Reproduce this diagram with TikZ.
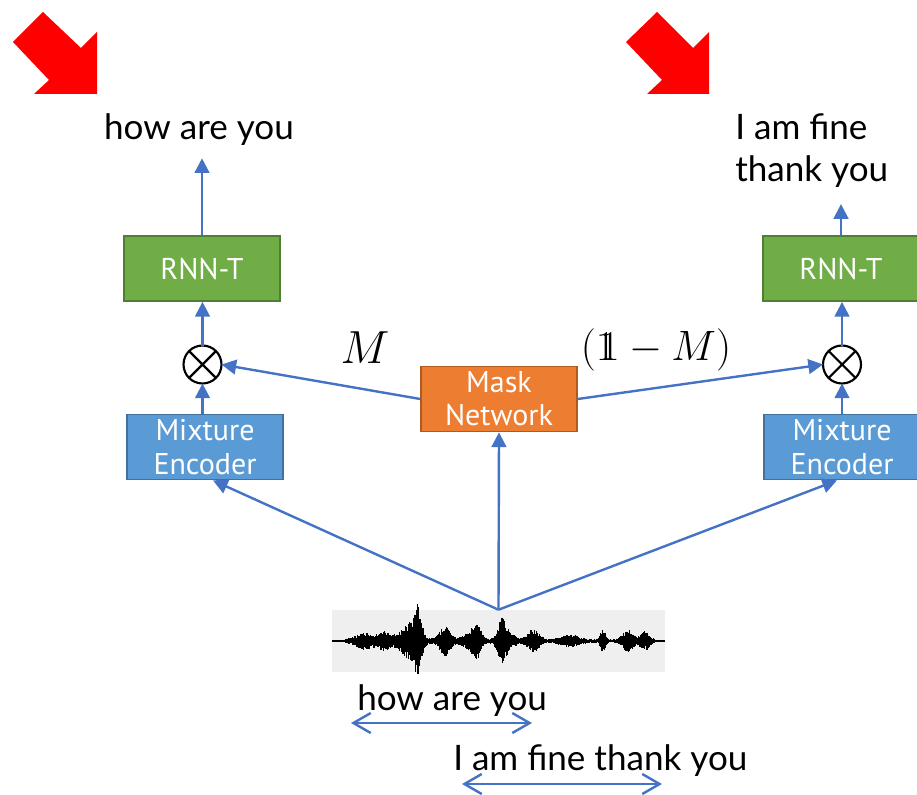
\documentclass[tikz,border=0pt]{standalone}
\usepackage{graphicx}
\usepackage[no-math]{fontspec}
\setmainfont{Lato}
\newfontfamily\boxfont{PT Sans}
\usetikzlibrary{arrows.meta,calc}
\newcommand{\dsone}{\mathord{\rlap{$1$}\kern0.1em 1}}
\definecolor{lblue}{HTML}{4472C4}
\definecolor{gfill}{HTML}{70AD47}
\definecolor{gdraw}{HTML}{507E32}
\definecolor{bfill}{HTML}{5B9BD5}
\definecolor{bdraw}{HTML}{41719C}
\definecolor{ofill}{HTML}{ED7D31}
\definecolor{odraw}{HTML}{AE5A21}
\definecolor{wavebg}{HTML}{EFEFEF}
\begin{document}
\begin{tikzpicture}[x=0.75pt,y=-0.75pt,
  box/.style={draw, line width=1.1pt, minimum width=117pt, minimum height=49pt, inner sep=0pt, text=white, font=\boxfont\fontsize{22.5}{25}\selectfont, align=center},
  gbox/.style={box, fill=gfill, draw=gdraw},
  bbox/.style={box, fill=bfill, draw=bdraw},
  obox/.style={box, fill=ofill, draw=odraw},
  conn/.style={draw=lblue, line width=1.8pt, -{Triangle[length=11pt,width=11pt]}},
  dbl/.style={draw=lblue, line width=1.8pt, {Straight Barb[length=13pt,width=15pt]}-{Straight Barb[length=13pt,width=15pt]}},
  otimes/.style={circle, draw=black, line width=1.6pt, minimum size=28.5pt, inner sep=0pt, outer sep=0pt},
  lbl/.style={font=\fontsize{26.3}{32}\selectfont, inner sep=0pt},
  mlbl/.style={font=\Huge, inner sep=0pt},
  declare function={
    gg(\x,\c,\a,\w)=\a*exp(-min(((\x-\c)/\w)^2,40));
    env(\x)=0.7+1.0*(\x>345)*(\x<655)
      +gg(\x,365,7,12)+gg(\x,385,8,8)+gg(\x,410,17,12)+gg(\x,418,26,4)
      +gg(\x,445,14,7)+gg(\x,477,16,5)+gg(\x,470,7,10)+gg(\x,502,16,5)
      +gg(\x,506,8,10)+gg(\x,533,10,8)+gg(\x,570,5,12)+gg(\x,603,11,3)
      +gg(\x,628,10,7)+gg(\x,645,8,6);
  }]
\useasboundingbox (0,0) rectangle (917,795);

% red arrows
\fill[red] (43,12) -- (81,48) -- (97,32) -- (97,94) -- (34,94) -- (49,80) -- (13,42) -- cycle;
\fill[red] (657,12) -- (693,48) -- (709,32) -- (709,94) -- (647,94) -- (662,80) -- (626,42) -- cycle;

% output labels
\node[lbl, anchor=base] (out1) at (199,140) {how are you};
\node[lbl, anchor=north west, align=left] (out2) at (735,113) {I am fine\\thank you};

% boxes
\node[gbox] (rnn1) at (202,268.5) {RNN-T};
\node[gbox] (rnn2) at (841,268.5) {RNN-T};
\node[otimes] (c1) at (202.5,364.5) {};
\node[otimes] (c2) at (842,364.5) {};
\draw[line width=1.6pt] (c1.north east) -- (c1.south west) (c1.north west) -- (c1.south east);
\draw[line width=1.6pt] (c2.north east) -- (c2.south west) (c2.north west) -- (c2.south east);
\node[bbox] (enc1) at (205,447) {Mixture\\Encoder};
\node[bbox] (enc2) at (842,447) {Mixture\\Encoder};
\node[obox] (mask) at (499,399) {Mask\\Network};

% math labels
\node[mlbl] (mlab) at (365,348) {\scalebox{1.4}{$M$}};
\node[mlbl] (nmlab) at (656,350) {\scalebox{1.28}{$(\dsone-M)$}};

% waveform
\node[fill=wavebg, minimum width=249.75pt, minimum height=46.5pt, inner sep=0pt] (wav) at (498.5,641) {};
\pgfmathsetseed{7}
\draw[line width=0.9pt] (332,641) -- (665,641);
\foreach \xx in {334,334.7,...,663}{
  \pgfmathsetmacro\ee{env(\xx)}
  \pgfmathsetmacro\up{\ee*(0.55+0.45*rnd)}
  \pgfmathsetmacro\dn{\ee*(0.55+0.45*rnd)}
  \draw[line width=0.9pt] (\xx,641-\up) -- (\xx,641+\dn);
}

% connectors
\draw[conn, shorten >=9pt] (rnn1.north) -- (rnn1.north |- out1.south);
\draw[conn] (rnn2.north) -- ($(rnn2.north)+(0,-31)$);
\draw[conn] (c1.north) -- (rnn1.south -| c1);
\draw[conn] (c2.north) -- (rnn2.south -| c2);
\draw[conn] (enc1.north -| c1) -- (c1.south);
\draw[conn] (enc2.north -| c2) -- (c2.south);
\draw[conn] (mask.west) -- (c1.east);
\draw[conn] (mask.east) -- (c2.west);
\draw[conn] (wav.north) -- ($(enc1.south)+(8,0)$);
\draw[conn] (wav.north) -- (mask.south);
\draw[conn] (wav.north) -- ($(enc2.south)+(-5,0)$);

% bottom labels
\node[lbl, anchor=base west] (bl1) at (357,710) {how are you};
\node[lbl, anchor=base west] (bl2) at (453,770) {I am fine thank you};
\coordinate (h1) at (351,723);
\coordinate (h2) at (532,723);
\coordinate (i1) at (462,784);
\coordinate (i2) at (662,784);
\draw[dbl] (h1) -- (h2);
\draw[dbl] (i1) -- (i2);
\end{tikzpicture}
\end{document}
